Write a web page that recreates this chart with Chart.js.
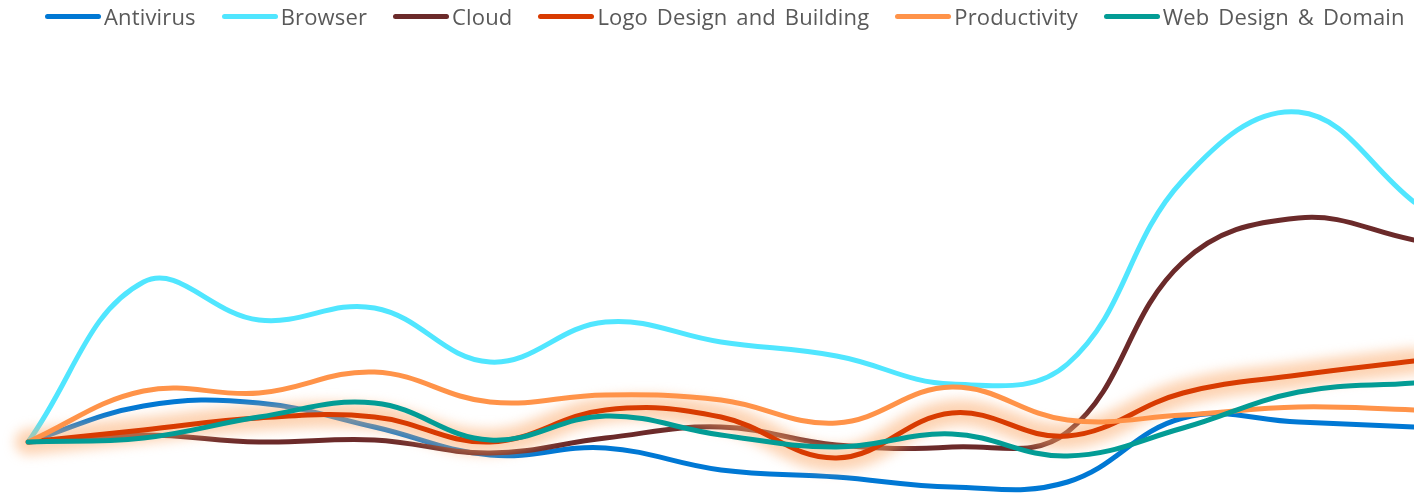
<!DOCTYPE html>
<html>
<head>
<meta charset="utf-8">
<script src="https://cdn.jsdelivr.net/npm/chart.js@4/dist/chart.umd.min.js"></script>
<style>
  html, body { margin: 0; padding: 0; background: #fff; }
  #wrap { position: relative; width: 1414px; height: 498px; overflow: hidden; }
  #legend { position: absolute; left: 45px; top: 1px; display: flex; gap: 26px; font-family: "Open Sans", sans-serif; font-size: 22px; word-spacing: 3px; letter-spacing: 0.15px; color: #595959; white-space: nowrap; }
  #legend .item { display: flex; align-items: center; }
  #legend .swatch { width: 56px; height: 5px; border-radius: 3px; margin-right: 3px; }
  #legend span { line-height: 30px; }
</style>
</head>
<body>
<div id="wrap">
  <canvas id="mycanvas" width="1414" height="498"></canvas>
  <div id="legend"></div>
</div>
<script>
var periods = ['P1', 'P2', 'P3', 'P4', 'P5', 'P6', 'P7', 'P8', 'P9', 'P10', 'P11', 'P12', 'P13'];
var names = ['Antivirus', 'Browser', 'Cloud', 'Logo Design and Building', 'Productivity', 'Web Design & Domain'];
var colors = ['#0078d4', '#50e6ff', '#6b2a2a', '#d83b01', '#ff9349', '#039c95'];

var antivirus = [100, 118, 119.5, 107.5, 93.5, 97, 86, 82.5, 77.5, 80, 112, 110, 107.5];
var browser = [100, 180, 161, 167, 140, 160, 150, 143, 129, 139, 231, 265, 220];
var cloud = [100, 103.5, 100, 101, 94.5, 102, 107.5, 98.5, 97.5, 105, 190, 212, 201];
var logoDesign = [100, 106, 112, 112.5, 100, 116, 112.5, 92, 114.5, 103, 124.5, 133.5, 140.5];
var productivity = [100, 125.5, 124.5, 135, 120, 123.5, 121, 109.5, 127.5, 111, 113.5, 117.5, 116];
var webDesign = [100, 102, 112.5, 119.5, 101, 113, 103.5, 97.5, 104, 93, 107, 125, 129.5];

var series = [antivirus, browser, cloud, logoDesign, productivity, webDesign];
var highlighted = 3;

var datasets = [];
for (var i = 0; i < series.length; i++) {
  datasets.push({
    label: names[i],
    data: series[i],
    borderColor: colors[i],
    backgroundColor: colors[i],
    borderWidth: 5,
    borderCapStyle: 'round',
    borderJoinStyle: 'round',
    pointRadius: 0,
    tension: 0.4,
    fill: false,
    // later series are drawn on top
    order: series.length - i
  });
}

// soft orange halo under the highlighted line
var glow = {
  id: 'glow',
  beforeDatasetDraw: function(chart, args) {
    if (args.index !== highlighted) return;
    var line = args.meta.dataset;
    var c = chart.ctx;
    c.save();
    c.filter = 'blur(6px)';
    c.lineWidth = 26;
    c.lineCap = 'round';
    c.lineJoin = 'round';
    c.strokeStyle = 'rgba(252, 170, 105, 0.5)';
    c.beginPath();
    line.path(c);
    c.stroke();
    c.restore();
  }
};

var ctx = document.getElementById('mycanvas');
var lineGraph = new Chart(ctx, {
  type: 'line',
  data: { labels: periods, datasets: datasets },
  options: {
    responsive: false,
    animation: false,
    layout: { padding: { left: 28, right: 0, top: 0, bottom: 0 } },
    plugins: { legend: { display: false }, tooltip: { enabled: false } },
    scales: {
      x: { display: false, offset: false },
      y: { display: false, min: 72, max: 321 }
    }
  },
  plugins: [glow]
});

var legend = document.getElementById('legend');
lineGraph.data.datasets.forEach(function(ds) {
  var item = document.createElement('div');
  item.className = 'item';
  var sw = document.createElement('div');
  sw.className = 'swatch';
  sw.style.background = ds.borderColor;
  var txt = document.createElement('span');
  txt.textContent = ds.label;
  item.appendChild(sw);
  item.appendChild(txt);
  legend.appendChild(item);
});
</script>
</body>
</html>
